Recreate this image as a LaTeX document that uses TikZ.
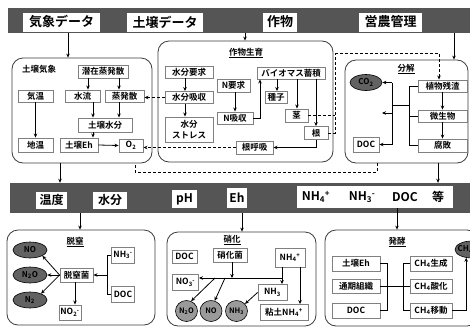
\documentclass[tikz,border=0pt]{standalone}
\usepackage{fontspec}
\setmainfont{Noto Sans CJK JP}[BoldFont={Noto Sans CJK JP Bold}]
\usetikzlibrary{arrows.meta,shapes.geometric,calc}
\definecolor{bandgray}{HTML}{555555}
\definecolor{boxline}{HTML}{808080}
\definecolor{bigline}{HTML}{3C3C3C}
\definecolor{ellgray}{HTML}{626262}
\definecolor{circgray}{HTML}{9A9A9A}
\newcommand\subsup[2]{\textsubscript{#1}\kern-0.3pt\textsuperscript{#2}}
\begin{document}
\begin{tikzpicture}[x=1pt,y=-1pt,
  bandrect/.style={fill=bandgray,draw=none,inner sep=0pt},
  bandlbl/.style={fill=white,draw=none,inner sep=0pt,font=\fontsize{13}{14}\selectfont\bfseries},
  lowlbl/.style={fill=white,draw=none,inner sep=0pt,font=\fontsize{12}{13}\selectfont\bfseries},
  lowtxt/.style={inner sep=0pt,font=\fontsize{12}{13}\selectfont\bfseries},
  bigbox/.style={draw=bigline,line width=0.8pt,rounded corners=11pt,fill=white,inner sep=0pt},
  sbox/.style={draw=boxline,line width=0.9pt,fill=white,inner sep=0pt,font=\fontsize{8.5}{10.5}\selectfont\bfseries},
  ell/.style={ellipse,draw=black,line width=0.6pt,fill=ellgray,inner sep=0pt,font=\fontsize{8}{9}\selectfont\bfseries},
  circ/.style={ellipse,draw=black,line width=0.6pt,fill=circgray,inner sep=0pt,font=\fontsize{7.5}{9}\selectfont\bfseries},
  ttl/.style={inner sep=0pt,font=\fontsize{8.5}{9.5}\selectfont\bfseries},
  arr/.style={-{Stealth[length=4pt,width=3.5pt]},line width=0.8pt},
  ln/.style={line width=0.8pt},
  dsh/.style={dash pattern=on 3pt off 2pt,line width=0.8pt},
]
\useasboundingbox (0,0) rectangle (470,327);
\fill[white] (0,0) rectangle (470,327);

% bands
\node[bandrect,minimum width=462pt,minimum height=25pt] (topband) at (239,20.5) {};
\node[bandrect,minimum width=460pt,minimum height=30pt] (lowband) at (240,198) {};

\node[bandlbl,minimum width=77pt,minimum height=19pt] (kisho) at (61.5,22) {気象データ};
\node[bandlbl,minimum width=76pt,minimum height=19pt] (dojo) at (165,22) {土壌データ};
\node[bandlbl,minimum width=34pt,minimum height=19pt] (sakumotsu) at (280,22) {作物};
\node[bandlbl,minimum width=63pt,minimum height=19pt] (einou) at (390.5,22) {営農管理};

\node[lowlbl,minimum width=31pt,minimum height=17pt] (ondo) at (51.5,200) {温度};
\node[lowlbl,minimum width=34pt,minimum height=17pt] (suibun) at (110,200) {水分};
\node[lowlbl,minimum width=25pt,minimum height=18pt] (ph) at (184.5,199) {pH};
\node[lowlbl,minimum width=20pt,minimum height=20pt] (eh) at (237,198) {Eh};
\node[lowlbl,minimum width=156pt,minimum height=22pt] (nhbox) at (375,197) {};
\node[lowtxt] (t1) at (316,197) {NH\subsup{4}{+}};
\node[lowtxt] (t2) at (362,197) {NH\subsup{3}{-}};
\node[lowtxt] (t3) at (405,197) {DOC};
\node[lowtxt] (t4) at (438,197) {等};

% big boxes
\node[bigbox,minimum width=140pt,minimum height=105pt] (B1) at (82,110.5) {};
\node[bigbox,minimum width=175pt,minimum height=121pt] (B2) at (245.5,101.5) {};
\node[bigbox,minimum width=123pt,minimum height=103pt] (B3) at (406.5,111.5) {};
\node[bigbox,minimum width=148pt,minimum height=95pt] (B4) at (81,277.5) {};
\node[bigbox,minimum width=149pt,minimum height=94pt] (B5) at (241.5,279) {};
\node[bigbox,minimum width=153pt,minimum height=96pt] (B6) at (401.5,278) {};

% band arrows
\coordinate (a1) at (68,0);
\coordinate (a2) at (245,0);
\coordinate (a3) at (454,0);
\coordinate (a4) at (60,0);
\coordinate (a5) at (438,0);
\coordinate (a6) at (80,0);
\coordinate (a7) at (242,0);
\coordinate (a8) at (397,0);
\draw[arr] (a1 |- topband.south) -- (a1 |- B1.north);
\draw[arr] (a2 |- topband.south) -- (a2 |- B2.north);
\draw[arr] (a3 |- topband.south) -- (a3 |- B3.north);
\draw[arr] (a4 |- B1.south) -- (a4 |- lowband.north);
\draw[arr] (a5 |- B3.south) -- (a5 |- lowband.north);
\draw[arr] (a6 |- lowband.south) -- (a6 |- B4.north);
\draw[arr] (a7 |- lowband.south) -- (a7 |- B5.north);
\draw[arr] (a8 |- nhbox.south) -- (a8 |- B6.north);

% ---- Box 1: soil climate
\node[ttl] (t_b1) at (39,69) {土壌気象};
\node[sbox,minimum width=50pt,minimum height=13pt] (pot) at (103,71.5) {潜在蒸発散};
\node[sbox,minimum width=35pt,minimum height=12pt] (kion) at (35.5,96) {気温};
\node[sbox,minimum width=35pt,minimum height=12pt] (suiryu) at (82.5,96) {水流};
\node[sbox,minimum width=39pt,minimum height=12pt] (joha) at (124.5,96) {蒸発散};
\node[sbox,minimum width=54pt,minimum height=14pt] (dsui) at (105,125) {土壌水分};
\node[sbox,minimum width=35pt,minimum height=14pt] (chion) at (35.5,145) {地温};
\node[sbox,minimum width=38pt,minimum height=14pt] (deh) at (79,145) {土壌Eh};
\node[sbox,minimum width=24pt,minimum height=13pt] (otwo) at (131,145.5) {O\textsubscript{2}};
\coordinate (c88) at (88,0);
\coordinate (c119) at (119,0);
\coordinate (c93) at (93,0);
\draw[arr] (c88 |- pot.south) -- (c88 |- suiryu.north);
\draw[arr] (c119 |- pot.south) -- (c119 |- joha.north);
\draw[arr] (c93 |- suiryu.south) -- (c93 |- dsui.north);
\draw[arr] (c119 |- joha.south) -- (c119 |- dsui.north);
\draw[arr] (c93 |- dsui.south) -- (c93 |- deh.north);
\draw[arr] (kion.south) -- (chion.north);
\draw[arr] (deh.east) -- (otwo.west);

% ---- Box 2: crop growth
\node[ttl] (t_b2) at (246,53) {\underline{作物生育}};
\node[sbox,minimum width=48pt,minimum height=12pt] (wreq) at (189,72) {水分要求};
\node[sbox,minimum width=48pt,minimum height=12pt] (wabs) at (189,97.5) {水分吸収};
\node[sbox,minimum width=48pt,minimum height=25pt,align=center] (wstr) at (189,129.5) {水分\\ストレス};
\node[sbox,minimum width=33pt,minimum height=13pt] (nreq) at (233.5,85.5) {N要求};
\node[sbox,minimum width=36pt,minimum height=12pt] (nabs) at (235,118) {N吸収};
\node[sbox,minimum width=68pt,minimum height=12pt] (bio) at (291,73) {バイオマス蓄積};
\node[sbox,minimum width=22pt,minimum height=12pt] (seed) at (276,97.5) {種子};
\node[sbox,minimum width=23pt,minimum height=13pt] (stem) at (296.5,115.5) {茎};
\node[sbox,minimum width=24pt,minimum height=13pt] (root) at (316,133) {根};
\node[sbox,minimum width=37pt,minimum height=13pt] (rresp) at (254.5,147.5) {根呼吸};
\coordinate (c185) at (185,0);
\coordinate (c260) at (260,0);
\coordinate (c277) at (277,0);
\coordinate (c297) at (297,0);
\coordinate (c316) at (316,147.5);
\draw[arr] (c185 |- wreq.south) -- (c185 |- wabs.north);
\draw[arr] (c185 |- wabs.south) -- (c185 |- wstr.north);
\draw[arr] (nreq.south -| nabs) -- (nabs.north);
\draw[arr] (nabs.east) -- (c260 |- nabs.east) -- (c260 |- bio.south);
\draw[arr] (c277 |- bio.south) -- (c277 |- seed.north);
\draw[arr] (c297 |- bio.south) -- (c297 |- stem.north);
\draw[arr] (bio.south -| root) -- (root.north);
\draw[arr] (root.south) -- (c316) -- (rresp.east);
\draw[dsh,arr] (wabs.west) -- (wabs.west -| joha.east);
\draw[dsh,arr] (rresp.west) -- (rresp.west -| otwo.east);

% ---- Box 3: decomposition
\node[ttl] (t_b3) at (406,69) {\underline{分解}};
\node[ell,minimum width=32pt,minimum height=16pt] (co2) at (366,82.5) {CO\textsubscript{2}};
\node[sbox,minimum width=49pt,minimum height=12pt] (zanshi) at (442.5,86) {植物残渣};
\node[sbox,minimum width=49pt,minimum height=12pt] (bisei) at (442.5,116) {微生物};
\node[sbox,minimum width=49pt,minimum height=13pt] (fuhai) at (442.5,145.5) {腐敗};
\node[sbox,minimum width=26pt,minimum height=15pt] (doc1) at (366,144.5) {DOC};
\draw[arr] (zanshi.south) -- (bisei.north);
\draw[arr] (bisei.south) -- (fuhai.north);
\coordinate (b409) at (409,105);
\coordinate (b392) at (392,105);
\coordinate (bmid) at (382,113);
\draw[ln] (zanshi.west) -- (zanshi.west -| b409) -- (fuhai.west -| b409) -- (fuhai.west);
\draw[ln] (bisei.west) -- (bisei.west -| b409);
\draw[ln] (b409) -- (b392);
\draw[ln] (b392 |- co2.east) -- (b392 |- doc1.east);
\draw[arr] (b392 |- co2.east) -- (co2.east);
\draw[arr] (b392 |- bmid) -- (bmid);
\draw[arr] (b392 |- doc1.east) -- (doc1.east);

% dashed links crop -> residue
\coordinate (d0) at (335,53);
\coordinate (d1) at (439,53);
\draw[dsh] (stem.east) -- (stem.east -| d0);
\draw[dsh] (root.east) -- (root.east -| d0) -- (d0);
\draw[dsh,arr] (d0) -- (d1) -- (d1 |- zanshi.north);
% bottom dashed loop
\coordinate (e1) at (377,172);
\coordinate (e2) at (135,172);
\draw[dsh] (e1 |- B3.south) -- (e1) -- (e2) -- (e2 |- B1.south);

% ---- Box 4: denitrification
\node[ttl] (t_b4) at (75,242) {\underline{脱窒}};
\node[ell,minimum width=34pt,minimum height=16pt] (no1) at (30,250) {NO};
\node[ell,minimum width=34pt,minimum height=16pt] (n2o1) at (30,275) {N\textsubscript{2}O};
\node[ell,minimum width=34pt,minimum height=16pt] (n21) at (30,300) {N\textsubscript{2}};
\node[sbox,minimum width=33pt,minimum height=14pt] (datsu) at (76.5,275) {脱窒菌};
\node[sbox,minimum width=23pt,minimum height=16pt] (nh3m) at (123,255) {NH\subsup{3}{-}};
\node[sbox,minimum width=23pt,minimum height=16pt] (doc2) at (123,294) {DOC};
\node[sbox,minimum width=22pt,minimum height=15pt] (no2m) at (70,312.5) {NO\subsup{2}{-}};
\draw[arr] (datsu.west) -- (no1.-25);
\draw[arr] (datsu.west) -- (n2o1.east);
\draw[arr] (datsu.west) -- (n21.30);
\coordinate (g107) at (107,275);
\coordinate (g75) at (75,0);
\draw[ln] (nh3m.west) -- (nh3m.west -| g107) -- (doc2.west -| g107) -- (doc2.west);
\draw[arr] (g107) -- (datsu.east);
\draw[arr] (g75 |- datsu.south) -- (g75 |- no2m.north);

% ---- Box 5: nitrification
\node[ttl] (t_b5) at (232,240) {\underline{硝化}};
\node[sbox,minimum width=25pt,minimum height=13pt] (doc3) at (184.5,256.5) {DOC};
\node[sbox,minimum width=34pt,minimum height=14pt] (shoka) at (230,255) {硝化菌};
\node[sbox,minimum width=30pt,minimum height=19pt] (nh4p) at (290,257.5) {NH\subsup{4}{+}};
\node[sbox,minimum width=26pt,minimum height=16pt] (no3m) at (185.5,282.5) {NO\subsup{3}{-}};
\node[sbox,minimum width=29pt,minimum height=16pt] (nh3r) at (272.5,292.5) {NH\textsubscript{3}};
\node[sbox,minimum width=48pt,minimum height=16pt] (nendo) at (284,312.5) {粘土NH\subsup{4}{+}};
\node[circ,minimum width=22pt,minimum height=21pt] (c1) at (186.5,311) {N\textsubscript{2}O};
\node[circ,minimum width=22pt,minimum height=21pt] (c2) at (211,311) {NO};
\node[circ,minimum width=22pt,minimum height=21pt] (c3) at (236.5,311) {NH\textsubscript{3}};
\coordinate (h282) at (282,278);
\coordinate (h300) at (300,0);
\coordinate (h232) at (232,278);
\coordinate (h215) at (215,278);
\coordinate (h225) at (225,278);
\draw[ln] (nh4p.south -| h282) -- (h282);
\draw[arr] (h282) -- (no3m.east |- h282);
\draw[arr] (h282) -- (h282 |- nh3r.north);
\draw[arr] (h232 |- shoka.south) -- (h232);
\draw[arr] (h215) -- (c1.65);
\draw[arr] (h225) -- (c2.70);
\draw[arr] (nh3r.west) -- (c3.40);
\draw[arr] (h300 |- nh4p.south) -- (h300 |- nendo.north);

% ---- Box 6: fermentation
\node[ttl] (t_b6) at (397,242) {\underline{発酵}};
\node[ell,minimum width=34pt,minimum height=17pt] (ch4e) at (472,249.5) {};
\node[inner sep=0pt,anchor=west,font=\fontsize{8}{9}\selectfont\bfseries] (ch4t) at (457.5,249.5) {CH\textsubscript{4}};
\node[sbox,minimum width=48pt,minimum height=15pt] (seh) at (356,263.5) {土壌Eh};
\node[sbox,minimum width=48pt,minimum height=14pt] (tsuki) at (356,286.5) {通期組織};
\node[sbox,minimum width=48pt,minimum height=15pt] (doc4) at (356,310.5) {DOC};
\node[sbox,minimum width=42pt,minimum height=15pt] (ch4a) at (431,263.5) {CH\textsubscript{4}生成};
\node[sbox,minimum width=42pt,minimum height=14pt] (ch4b) at (431,286.5) {CH\textsubscript{4}酸化};
\node[sbox,minimum width=42pt,minimum height=15pt] (ch4c) at (431,310.5) {CH\textsubscript{4}移動};
\coordinate (k387) at (387,0);
\coordinate (k403) at (403,0);
\draw[ln] (seh.east) -- (seh.east -| k387) -- (doc4.east -| k387) -- (doc4.east);
\draw[ln] (ch4a.west) -- (ch4a.west -| k403) -- (ch4c.west -| k403) -- (ch4c.west);
\draw[ln] (tsuki.east) -- (ch4b.west);
\draw[arr] (ch4c.east) -| (ch4e.235);
\end{tikzpicture}
\end{document}
